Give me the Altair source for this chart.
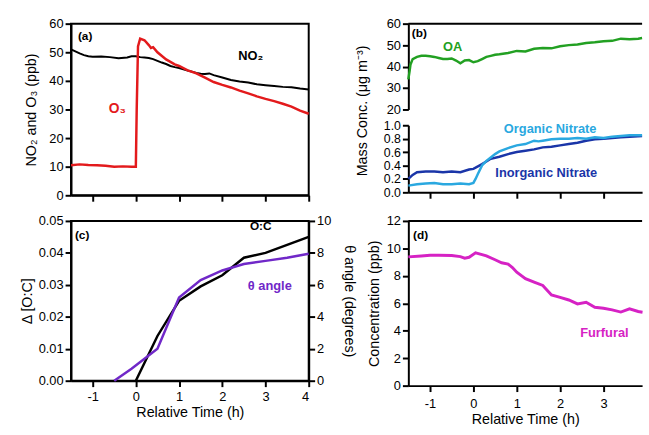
import altair as alt
import pandas as pd

# ---------------- data ----------------
x_ticks = [-1, 0, 1, 2, 3, 4]

# (a) NO2 and O3 (ppb)
no2_t = [-1.5, -1.4, -1.3, -1.2, -1.1, -1.0, -0.8, -0.6, -0.4, -0.2, -0.1, 0.0, 0.1, 0.2, 0.3, 0.4,
         0.5, 0.6, 0.7, 0.8, 0.9, 1.0, 1.2, 1.4, 1.5, 1.6, 1.7, 1.8, 2.0, 2.2, 2.4, 2.6, 2.8, 3.0,
         3.2, 3.4, 3.6, 3.8, 4.0]
no2_v = [51.0, 50.3, 49.6, 49.0, 48.6, 48.4, 48.5, 48.3, 47.9, 48.2, 48.6, 48.6, 48.3, 48.2, 48.0,
         47.6, 47.0, 46.4, 45.9, 45.2, 44.8, 44.5, 43.6, 42.8, 42.5, 42.4, 42.6, 42.0, 41.2, 40.3,
         39.8, 39.4, 38.8, 38.5, 38.2, 37.9, 37.8, 37.3, 37.0]
o3_t = [-1.5, -1.3, -1.1, -0.9, -0.7, -0.5, -0.3, -0.1, 0.0, 0.02, 0.05, 0.1, 0.2, 0.3, 0.35, 0.4,
        0.5, 0.7, 0.9, 1.0, 1.2, 1.4, 1.6, 1.8, 2.0, 2.2, 2.4, 2.6, 2.8, 3.0, 3.2, 3.4, 3.6, 3.8, 4.0]
o3_v = [10.5, 10.8, 10.6, 10.5, 10.3, 10.0, 10.1, 10.0, 10.0, 30.0, 52.0, 54.8, 54.2, 52.5, 51.5,
        51.8, 50.0, 47.5, 45.8, 45.2, 43.7, 42.6, 41.1, 39.6, 38.6, 37.7, 36.6, 35.6, 34.6, 33.7,
        32.9, 32.0, 31.0, 29.6, 28.5]

# (b) Mass concentrations
oa_t = [-1.5, -1.47, -1.45, -1.4, -1.3, -1.2, -1.1, -1.0, -0.9, -0.8, -0.7, -0.6, -0.5, -0.4, -0.3,
        -0.2, -0.1, 0.0, 0.1, 0.2, 0.3, 0.4, 0.5, 0.6, 0.8, 1.0, 1.2, 1.4, 1.6, 1.8, 2.0, 2.2, 2.4,
        2.6, 2.8, 3.0, 3.2, 3.4, 3.6, 3.8, 3.89]
oa_v = [34.0, 38.0, 41.0, 43.5, 44.5, 45.0, 45.0, 44.8, 44.5, 44.0, 43.5, 43.5, 43.8, 42.8, 41.5,
        42.8, 43.0, 42.0, 42.5, 43.5, 44.5, 45.0, 45.5, 45.7, 46.3, 47.3, 47.0, 48.3, 48.7, 48.5,
        49.5, 50.0, 50.3, 51.0, 51.3, 51.8, 52.0, 53.0, 52.7, 53.0, 53.3]
orgn_t = [-1.5, -1.3, -1.1, -0.9, -0.7, -0.5, -0.3, -0.1, 0.0, 0.05, 0.1, 0.2, 0.3, 0.4, 0.5, 0.6,
          0.8, 1.0, 1.2, 1.4, 1.5, 1.6, 1.8, 2.0, 2.2, 2.4, 2.6, 2.8, 3.0, 3.2, 3.4, 3.6, 3.89]
orgn_v = [0.10, 0.12, 0.13, 0.14, 0.12, 0.12, 0.13, 0.12, 0.14, 0.20, 0.27, 0.40, 0.47, 0.52, 0.57,
          0.61, 0.66, 0.70, 0.72, 0.77, 0.76, 0.77, 0.79, 0.80, 0.80, 0.81, 0.80, 0.82, 0.81, 0.83,
          0.84, 0.85, 0.85]
inorgn_t = [-1.5, -1.4, -1.3, -1.1, -0.9, -0.7, -0.5, -0.3, -0.1, 0.0, 0.2, 0.4, 0.6, 0.8, 1.0, 1.2,
            1.4, 1.6, 1.8, 2.0, 2.2, 2.4, 2.6, 2.8, 3.0, 3.2, 3.4, 3.6, 3.89]
inorgn_v = [0.20, 0.26, 0.30, 0.31, 0.31, 0.30, 0.31, 0.30, 0.34, 0.35, 0.42, 0.50, 0.53, 0.57,
            0.60, 0.62, 0.64, 0.67, 0.68, 0.70, 0.72, 0.74, 0.77, 0.79, 0.80, 0.81, 0.82, 0.83, 0.84]

# (c) O:C and theta angle
oc_t = [0.0, 0.5, 1.0, 1.5, 2.0, 2.5, 3.0, 3.5, 4.0]
oc_v = [0.0, 0.014, 0.025, 0.0295, 0.033, 0.0385, 0.040, 0.0425, 0.045]
theta_t = [-0.5, -0.1, 0.5, 1.0, 1.5, 2.0, 2.5, 3.0, 3.5, 4.0]
theta_v = [0.0, 0.75, 2.0, 5.2, 6.3, 6.9, 7.3, 7.5, 7.7, 7.95]

# (d) Furfural
fur_t = [-1.5, -1.2, -1.0, -0.8, -0.5, -0.3, -0.2, -0.1, 0.05, 0.2, 0.3, 0.5, 0.65, 0.8, 0.9, 1.0,
         1.2, 1.4, 1.6, 1.8, 2.0, 2.2, 2.4, 2.6, 2.8, 3.0, 3.2, 3.4, 3.6, 3.8, 3.9]
fur_v = [9.38, 9.45, 9.5, 9.5, 9.48, 9.4, 9.29, 9.35, 9.68, 9.55, 9.45, 9.17, 8.95, 8.86, 8.6, 8.26,
         7.8, 7.55, 7.3, 6.6, 6.43, 6.24, 5.95, 6.07, 5.71, 5.64, 5.52, 5.36, 5.6, 5.4, 5.35]

# annotation anchors (data units)
a_lbl = ["NO₂", "O₃"]
a_lbl_t = [2.66, -0.43]
a_lbl_v = [48.6, 30.0]
b_oa_lbl = ["OA"]
b_oa_lbl_t = [-0.48]
b_oa_lbl_v = [49.0]
b_n_lbl = ["Organic Nitrate", "Inorganic Nitrate"]
b_n_lbl_t = [1.77, 1.68]
b_n_lbl_v = [0.94, 0.29]
c_lbl = ["O:C", "θ angle"]
c_lbl_t = [2.89, 3.1]
c_oc_lbl_v = [0.0484]
c_th_lbl_v = [5.95]
d_lbl = ["Furfural"]
d_lbl_t = [3.02]
d_lbl_v = [3.86]

# ---------------- style ----------------
FONT = "Liberation Sans"
RED = "#e31a1c"
GREEN = "#22a022"
LBLUE = "#2aa8e0"
DBLUE = "#1a35a8"
PURPLE = "#7028c8"
MAGENTA = "#d622c4"

WL, WR = 241, 237
HA, HB, HC, HD = 174, 171, 162, 167
FRAME = alt.ViewBackground(stroke="black", strokeWidth=2)


def df(t, v):
    return pd.DataFrame({"t": t, "v": v})


def line(data, color, x, y, w=2.5):
    return alt.Chart(data).mark_line(color=color, strokeWidth=w).encode(x=x, y=y)


def label(text, t, v, color, x, y, size=13):
    d = pd.DataFrame({"t": t, "v": v, "s": text})
    return alt.Chart(d).mark_text(font=FONT, fontWeight="bold", fontSize=size, color=color,
                                  align="center", baseline="middle").encode(x=x, y=y, text="s:N")


def letter(text, t, v, x, y):
    d = pd.DataFrame({"t": [t], "v": [v], "s": [text]})
    return alt.Chart(d).mark_text(font=FONT, fontWeight="bold", fontSize=12, color="black",
                                  align="left", baseline="middle").encode(x=x, y=y, text="s:N")


def top_border(w):
    return alt.Chart(pd.DataFrame({"k": [0]})).mark_rule(color="black", strokeWidth=2).encode(
        x=alt.value(0), x2=alt.value(w), y=alt.value(0))


def xenc(domain, labels, title=None, title_y=None, label_pad=3):
    kw = dict(values=x_ticks, labels=labels, title=title, labelExpr="'' + datum.value",
              labelPadding=label_pad)
    if title_y is not None:
        kw.update(titleY=title_y, titleBaseline="middle")
    return alt.X("t:Q", scale=alt.Scale(domain=domain, nice=False, zero=False), axis=alt.Axis(**kw))


# ---------------- panel (a) ----------------
xa = xenc([-1.5, 4], False)
ya = alt.Y("v:Q", scale=alt.Scale(domain=[0, 60], nice=False),
           axis=alt.Axis(values=[0, 10, 20, 30, 40, 50, 60], title="NO₂ and O₃ (ppb)",
                         titleX=-40, titleBaseline="middle"))
panel_a = alt.layer(
    line(df(no2_t, no2_v), "black", xa, ya, 2),
    line(df(o3_t, o3_v), RED, xa, ya, 2.5),
    label(a_lbl[:1], a_lbl_t[:1], a_lbl_v[:1], "black", xa, ya),
    label(a_lbl[1:], a_lbl_t[1:], a_lbl_v[1:], RED, xa, ya, 14),
    letter("(a)", -1.34, 55.5, xa, ya),
).properties(width=WL, height=HA, view=FRAME)

# ---------------- panel (b) ----------------
xb = xenc([-1.5, 3.89], False)
yb_oa = alt.Y("v:Q", scale=alt.Scale(domain=[20, 60], range=[87, 0], nice=False, zero=False),
              axis=alt.Axis(values=[20, 30, 40, 50, 60], orient="left",
                            title="Mass Conc. (μg m⁻³)", titleX=-46, titleY=88,
                            titleBaseline="middle"))
yb_n = alt.Y("v:Q", scale=alt.Scale(domain=[0, 1], range=[HB, 103], nice=False),
             axis=alt.Axis(values=[0, 0.2, 0.4, 0.6, 0.8, 1.0], format=".1f", orient="left",
                           title=None, labelFontSize=12.5))
b_oa = alt.layer(
    line(df(oa_t, oa_v), GREEN, xb, yb_oa),
    label(b_oa_lbl, b_oa_lbl_t, b_oa_lbl_v, GREEN, xb, yb_oa),
    letter("(b)", -1.42, 55.5, xb, yb_oa),
    top_border(WR),
)
b_n = alt.layer(
    line(df(inorgn_t, inorgn_v), DBLUE, xb, yb_n),
    line(df(orgn_t, orgn_v), LBLUE, xb, yb_n),
    label(b_n_lbl[:1], b_n_lbl_t[:1], b_n_lbl_v[:1], LBLUE, xb, yb_n),
    label(b_n_lbl[1:], b_n_lbl_t[1:], b_n_lbl_v[1:], DBLUE, xb, yb_n),
)
panel_b = alt.layer(b_oa, b_n).resolve_scale(y="independent").properties(width=WR, height=HB)

# ---------------- panel (c) ----------------
xc = xenc([-1.5, 4], True, "Relative Time (h)", 32.5, 4)
yc_oc = alt.Y("v:Q", scale=alt.Scale(domain=[0, 0.05], nice=False),
              axis=alt.Axis(values=[0, 0.01, 0.02, 0.03, 0.04, 0.05], format=".2f", orient="left",
                            title="Δ [O:C]", titleX=-44, titleBaseline="middle"))
yc_th = alt.Y("v:Q", scale=alt.Scale(domain=[0, 10], nice=False),
              axis=alt.Axis(values=[0, 2, 4, 6, 8, 10], orient="right",
                            title="θ angle (degrees)", titleX=40, titleBaseline="middle"))
c_oc = alt.layer(
    line(df(oc_t, oc_v), "black", xc, yc_oc, 2.5),
    label(c_lbl[:1], c_lbl_t[:1], c_oc_lbl_v, "black", xc, yc_oc, 12),
    letter("(c)", -1.41, 0.0457, xc, yc_oc),
)
c_th = alt.layer(
    line(df(theta_t, theta_v), PURPLE, xc, yc_th, 2.5),
    label(c_lbl[1:], c_lbl_t[1:], c_th_lbl_v, PURPLE, xc, yc_th),
)
panel_c = alt.layer(c_oc, c_th).resolve_scale(y="independent").properties(
    width=WL, height=HC, view=FRAME)

# ---------------- panel (d) ----------------
xd = xenc([-1.5, 3.89], True, "Relative Time (h)", 34, 6)
yd = alt.Y("v:Q", scale=alt.Scale(domain=[0, 12], nice=False),
           axis=alt.Axis(values=[0, 2, 4, 6, 8, 10, 12], title="Concentration (ppb)",
                         titleX=-34, titleBaseline="middle"))
panel_d = alt.layer(
    line(df(fur_t, fur_v), MAGENTA, xd, yd, 3),
    label(d_lbl, d_lbl_t, d_lbl_v, MAGENTA, xd, yd),
    letter("(d)", -1.39, 11.0, xd, yd),
    top_border(WR),
).properties(width=WR, height=HD)

chart = alt.concat(
    panel_a, panel_b, panel_c, panel_d,
    columns=2, spacing={"row": 26, "column": 101}, bounds="flush",
).properties(
    padding={"left": 19, "top": 14, "right": 0, "bottom": 2},
    background="white",
).configure_view(stroke=None).configure_axis(
    domainColor="black", domainWidth=2, tickColor="black", tickWidth=2, tickSize=6,
    labelFont=FONT, labelFontSize=13, labelColor="black",
    titleFont=FONT, titleFontSize=14.5, titleFontWeight="normal", titleColor="black",
    grid=False,
)

chart.save("out.html", embed_options={"renderer": "svg", "actions": False})
